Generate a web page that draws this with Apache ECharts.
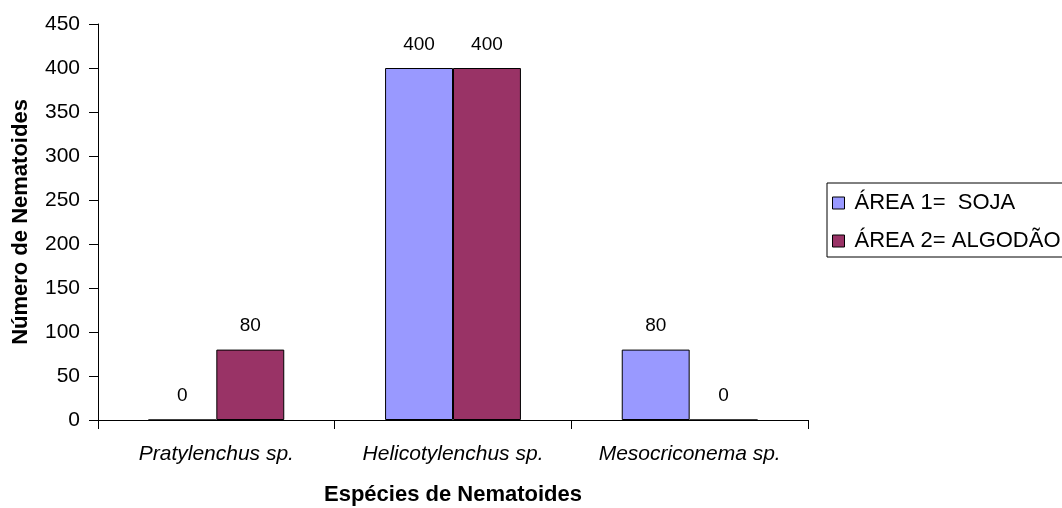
<!DOCTYPE html>
<html>
<head>
<meta charset="utf-8">
<script src="https://cdn.jsdelivr.net/npm/echarts@6/dist/echarts.min.js"></script>
<style>html,body{margin:0;padding:0;background:#fff}#c{width:1062px;height:508px}</style>
</head>
<body>
<div id="c"></div>
<script>
const categories = ['Pratylenchus sp.', 'Helicotylenchus sp.', 'Mesocriconema sp.'];
const seriesNames = ['ÁREA 1=  SOJA', 'ÁREA 2= ALGODÃO'];
const area1 = [0, 400, 80];
const area2 = [80, 400, 0];
const yTicks = [0, 50, 100, 150, 200, 250, 300, 350, 400, 450];

const chart = echarts.init(document.getElementById('c'));
const font = 'Arial, "Liberation Sans", sans-serif';
const labelCfg = { show: true, position: 'top', distance: 14, color: '#000', fontFamily: font, fontSize: 19 };
chart.setOption({
  animation: false,
  textStyle: { fontFamily: font },
  grid: { left: 98, top: 24, width: 710, height: 396, outerBoundsMode: 'none', containLabel: false },
  legend: {
    orient: 'vertical', left: 827, top: 183,
    borderColor: '#000', borderWidth: 1,
    padding: [9, 80, 5, 5],
    itemGap: 16, itemWidth: 12, itemHeight: 12,
    textStyle: { fontFamily: font, fontSize: 22, color: '#000', padding: [0, 0, 0, 5] },
    data: seriesNames.map(n => ({ name: n, icon: 'rect', itemStyle: { borderColor: '#000', borderWidth: 1 } }))
  },
  xAxis: {
    type: 'category', data: categories,
    name: 'Espécies de Nematoides', nameLocation: 'middle', nameGap: 64,
    nameTextStyle: { fontFamily: font, fontSize: 22, fontWeight: 'bold', color: '#000' },
    axisLine: { lineStyle: { color: '#000', width: 1 } },
    axisTick: { show: true, interval: 0, alignWithLabel: false, length: 9, lineStyle: { color: '#000' } },
    axisLabel: { interval: 0, hideOverlap: false, fontFamily: font, fontSize: 21, fontStyle: 'italic', color: '#000', margin: 24 }
  },
  yAxis: {
    type: 'value', min: 0, max: 450, interval: 50,
    name: 'Número de Nematoides', nameLocation: 'middle', nameGap: 66,
    nameTextStyle: { fontFamily: font, fontSize: 22, fontWeight: 'bold', color: '#000' },
    axisLine: { show: true, lineStyle: { color: '#000', width: 1 } },
    axisTick: { show: true, length: 9, lineStyle: { color: '#000' } },
    splitLine: { show: false },
    axisLabel: { fontFamily: font, fontSize: 21, color: '#000', margin: 18,
      formatter: v => yTicks.includes(v) ? String(v) : '' }
  },
  series: [
    { name: seriesNames[0], type: 'bar', data: area1, barGap: '0%', barCategoryGap: '42.6%',
      itemStyle: { color: '#9999FF', borderColor: '#000', borderWidth: 1 }, label: labelCfg },
    { name: seriesNames[1], type: 'bar', data: area2, barGap: '0%', barCategoryGap: '42.6%',
      itemStyle: { color: '#993366', borderColor: '#000', borderWidth: 1 }, label: labelCfg }
  ]
});
</script>
</body>
</html>
